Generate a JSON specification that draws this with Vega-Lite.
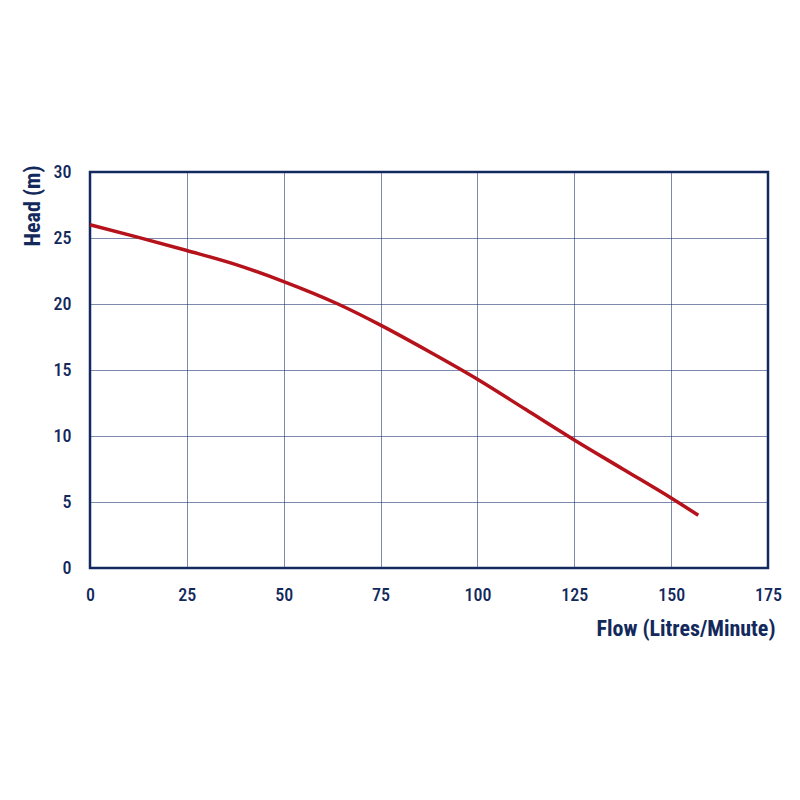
{
  "$schema": "https://vega.github.io/schema/vega-lite/v6.json",
  "autosize": "none",
  "padding": {"left": 90, "top": 172, "right": 32, "bottom": 232},
  "width": 678,
  "height": 396,
  "background": "#ffffff",
  "config": {
    "view": {"stroke": "#13295c", "strokeWidth": 2.5},
    "font": "Roboto Condensed, DejaVu Sans Condensed, Roboto"
  },
  "data": {
    "values": [
      {"flow": 0, "head": 26},
      {"flow": 12.5, "head": 25.05},
      {"flow": 25, "head": 24.05},
      {"flow": 37.5, "head": 23},
      {"flow": 50, "head": 21.7},
      {"flow": 64, "head": 20},
      {"flow": 75, "head": 18.4},
      {"flow": 87.5, "head": 16.4},
      {"flow": 100, "head": 14.3},
      {"flow": 112.5, "head": 12},
      {"flow": 125, "head": 9.7},
      {"flow": 137.5, "head": 7.5},
      {"flow": 150, "head": 5.3},
      {"flow": 157, "head": 4}
    ]
  },
  "mark": {
    "type": "line",
    "color": "#b5121b",
    "strokeWidth": 3.5,
    "interpolate": "monotone"
  },
  "encoding": {
    "x": {
      "field": "flow",
      "type": "quantitative",
      "title": "Flow (Litres/Minute)",
      "scale": {"domain": [0, 175], "nice": false},
      "axis": {
        "values": [0, 25, 50, 75, 100, 125, 150, 175],
        "domain": false,
        "ticks": false,
        "labelFlush": false,
        "labelOverlap": false,
        "gridColor": "#13296b",
        "gridOpacity": 0.55,
        "gridWidth": 1,
        "labelColor": "#13295c",
        "labelFont": "Roboto Condensed, DejaVu Sans Condensed, Roboto",
        "labelFontSize": 18,
        "labelFontWeight": 500,
        "labelPadding": 18,
        "titleColor": "#13295c",
        "titleFont": "Roboto Condensed, DejaVu Sans Condensed, Roboto",
        "titleFontSize": 22,
        "titleFontWeight": "bold",
        "titleAnchor": "end",
        "titleAlign": "right",
        "titleX": 685,
        "titleY": 67,
        "titleBaseline": "alphabetic"
      }
    },
    "y": {
      "field": "head",
      "type": "quantitative",
      "title": "Head (m)",
      "scale": {"domain": [0, 30], "nice": false},
      "axis": {
        "values": [0, 5, 10, 15, 20, 25, 30],
        "domain": false,
        "ticks": false,
        "labelFlush": false,
        "labelOverlap": false,
        "gridColor": "#13296b",
        "gridOpacity": 0.55,
        "gridWidth": 1,
        "labelColor": "#13295c",
        "labelFont": "Roboto Condensed, DejaVu Sans Condensed, Roboto",
        "labelFontSize": 18,
        "labelFontWeight": 500,
        "labelPadding": 19,
        "titleColor": "#13295c",
        "titleFont": "Roboto Condensed, DejaVu Sans Condensed, Roboto",
        "titleFontSize": 22,
        "titleFontWeight": "bold",
        "titleAngle": -90,
        "titleAlign": "right",
        "titleBaseline": "middle",
        "titleX": -58,
        "titleY": -7
      }
    }
  }
}
